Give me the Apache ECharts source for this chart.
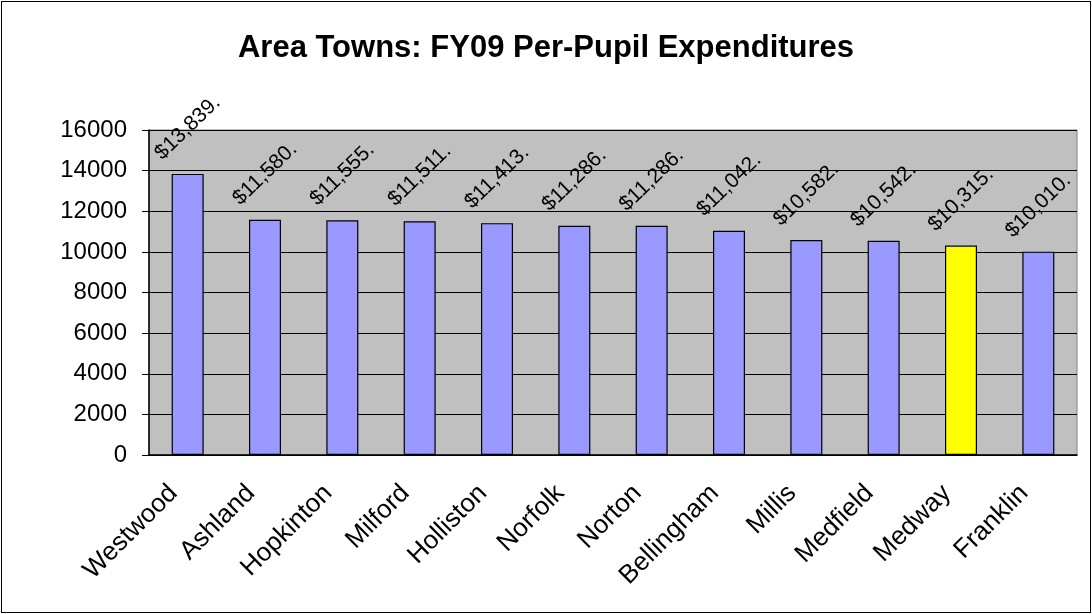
<!DOCTYPE html>
<html>
<head>
<meta charset="utf-8">
<script src="https://cdn.jsdelivr.net/npm/echarts@6/dist/echarts.min.js"></script>
<style>
  html, body { margin: 0; padding: 0; background: #fff; }
  #frame { position: absolute; left: 1px; top: 1px; width: 1088px; height: 610px; border: 1px solid #000; }
  #chart { width: 1092px; height: 614px; position: absolute; left: 0; top: 0; }
</style>
</head>
<body>
<div id="frame"></div>
<div id="chart"></div>
<script>
const towns = ['Westwood', 'Ashland', 'Hopkinton', 'Milford', 'Holliston', 'Norfolk',
  'Norton', 'Bellingham', 'Millis', 'Medfield', 'Medway', 'Franklin']
const spending = [13839, 11580, 11555, 11511, 11413, 11286, 11286, 11042, 10582, 10542, 10315, 10010]
const highlightTown = 'Medway'
const yTicks = { min: 0, max: 16000, interval: 2000 }

const font = 'Liberation Sans, Arial, sans-serif'
const chart = echarts.init(document.getElementById('chart'))

chart.setOption({
  animation: false,
  title: {
    text: 'Area Towns: FY09 Per-Pupil Expenditures',
    left: 'center',
    top: 28,
    textStyle: { fontFamily: font, fontSize: 31, fontWeight: 'bold', color: '#000' }
  },
  grid: {
    left: 149, right: 15, top: 130, bottom: 159,
    show: true,
    backgroundColor: '#c0c0c0',
    borderColor: '#808080',
    borderWidth: 1
  },
  xAxis: {
    type: 'category',
    data: towns,
    axisLine: { lineStyle: { color: '#000', width: 1.5 } },
    axisTick: { length: 6, lineStyle: { color: '#000' } },
    axisLabel: {
      rotate: 45,
      interval: 0,
      margin: 20,
      padding: [0, 20, 0, 0],
      color: '#000',
      fontFamily: font,
      fontSize: 26
    }
  },
  yAxis: {
    type: 'value',
    min: yTicks.min,
    max: yTicks.max,
    interval: yTicks.interval,
    axisLine: { show: true, lineStyle: { color: '#000', width: 1.5 } },
    axisTick: { show: true, length: 7, lineStyle: { color: '#000' } },
    splitLine: { lineStyle: { color: '#000', width: 1.2 } },
    axisLabel: {
      color: '#000', fontFamily: font, fontSize: 24, margin: 22,
      formatter: v => String(v)
    }
  },
  series: [{
    type: 'bar',
    barWidth: 32,
    data: spending.map((v, i) => ({
      value: v,
      itemStyle: { color: towns[i] === highlightTown ? '#ffff00' : '#9999ff' }
    })),
    itemStyle: { borderColor: '#000', borderWidth: 1.2 },
    label: {
      show: true,
      position: 'top',
      rotate: 44,
      align: 'center',
      verticalAlign: 'middle',
      distance: 46,
      color: '#000',
      fontFamily: font,
      fontSize: 21,
      formatter: p => '$' + p.value.toLocaleString('en-US') + '.'
    }
  }]
})
</script>
</body>
</html>
